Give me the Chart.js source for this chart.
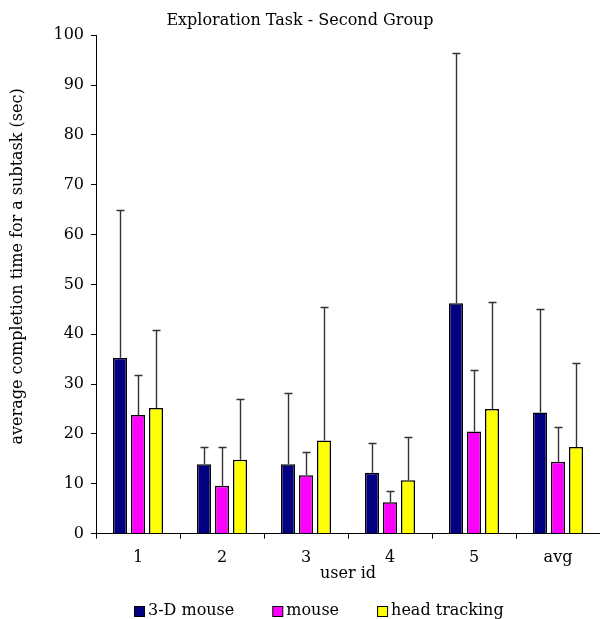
<!DOCTYPE html>
<html><head><meta charset="utf-8">
<script src="https://cdn.jsdelivr.net/npm/chart.js@4"></script>
<style>html,body{margin:0;padding:0;background:#fff}#wrap{width:600px;height:619px}</style>
</head><body><div id="wrap"><canvas id="c" width="600" height="619"></canvas></div>
<script>
const categories = ['1','2','3','4','5','avg'];
const mouse3d = [35.3, 13.9, 13.9, 12.2, 46.2, 24.3];
const mouse3dErr = [64.9, 17.4, 28.2, 18.1, 96.5, 45.1];
const mouse = [23.8, 9.6, 11.7, 6.3, 20.5, 14.4];
const mouseErr = [31.9, 17.3, 16.4, 8.5, 32.8, 21.3];
const headTracking = [25.2, 14.8, 18.7, 10.7, 25.0, 17.4];
const headTrackingErr = [40.9, 27.0, 45.5, 19.3, 46.5, 34.3];
const yTicks = [0,10,20,30,40,50,60,70,80,90,100];
const yTitle = 'average completion time for a subtask (sec)';

const FONT = "'DejaVu Serif', serif";
const FS = 16;
Chart.defaults.font.family = FONT;
Chart.defaults.color = '#000';

const errPlugin = {
  id: 'errbars',
  afterDatasetsDraw(chart) {
    const ctx = chart.ctx;
    const ys = chart.scales.y;
    ctx.save();
    ctx.strokeStyle = '#333';
    ctx.lineWidth = 1.4;
    chart.data.datasets.forEach((ds, di) => {
      const meta = chart.getDatasetMeta(di);
      meta.data.forEach((bar, i) => {
        const x = Math.round(bar.x) + 0.5;
        const yTop = Math.round(ys.getPixelForValue(ds.errTop[i])) + 0.5;
        ctx.beginPath();
        ctx.moveTo(x, bar.y);
        ctx.lineTo(x, yTop);
        ctx.moveTo(x - 4, yTop);
        ctx.lineTo(x + 4, yTop);
        ctx.stroke();
      });
    });
    ctx.restore();
  }
};

const textPlugin = {
  id: 'extraText',
  afterDraw(chart) {
    const ctx = chart.ctx;
    const ca = chart.chartArea;
    ctx.save();
    ctx.font = FS + 'px ' + FONT;
    ctx.fillStyle = '#000';
    ctx.save();
    ctx.translate(18, (ca.top + ca.bottom) / 2 - 18);
    ctx.rotate(-Math.PI / 2);
    ctx.textAlign = 'center';
    ctx.textBaseline = 'middle';
    ctx.fillText(yTitle, 0, 0);
    ctx.restore();
    ctx.textBaseline = 'middle';
    ctx.textAlign = 'left';
    const box = 11, gapText = 3, gapItem = 38;
    const items = chart.data.datasets.map(ds => ({label: ds.label, color: ds.backgroundColor, w: box + gapText + ctx.measureText(ds.label).width}));
    const total = items.reduce((s, it) => s + it.w, 0) + gapItem * (items.length - 1);
    let x = Math.round(chart.width / 2 + 19 - total / 2);
    const yc = chart.height - 8;
    items.forEach(it => {
      const by = Math.round(yc - box / 2) + 0.5;
      ctx.fillStyle = it.color;
      ctx.fillRect(x + 0.5, by, box - 1, box - 1);
      ctx.strokeStyle = '#000';
      ctx.lineWidth = 1;
      ctx.strokeRect(x + 0.5, by, box - 1, box - 1);
      ctx.fillStyle = '#000';
      ctx.fillText(it.label, x + box + gapText, yc);
      x += it.w + gapItem;
    });
    ctx.restore();
  }
};

new Chart(document.getElementById('c'), {
  type: 'bar',
  data: {
    labels: categories,
    datasets: [
      {label: '3-D mouse', data: mouse3d, errTop: mouse3dErr, backgroundColor: '#000080', borderColor: '#000', borderWidth: 1.5},
      {label: 'mouse', data: mouse, errTop: mouseErr, backgroundColor: '#ff00ff', borderColor: '#000', borderWidth: 1.5},
      {label: 'head tracking', data: headTracking, errTop: headTrackingErr, backgroundColor: '#ffff00', borderColor: '#000', borderWidth: 1.5}
    ]
  },
  options: {
    responsive: false,
    animation: false,
    layout: {padding: {left: 0, right: 0, top: 0, bottom: 36}},
    datasets: {bar: {categoryPercentage: 0.643, barPercentage: 0.78}},
    plugins: {
      title: {display: true, text: 'Exploration Task - Second Group', font: {size: FS, weight: 'normal', family: FONT}, color: '#000', padding: {top: 11, bottom: 5}},
      legend: {display: false},
      tooltip: {enabled: false}
    },
    scales: {
      x: {
        border: {color: '#000', width: 1},
        grid: {display: true, drawOnChartArea: false, drawTicks: true, tickLength: 5, color: '#000', offset: true},
        ticks: {font: {size: FS, family: FONT}, color: '#000', padding: 10},
        title: {display: true, text: 'user id', font: {size: FS, family: FONT}, color: '#000', padding: {top: -14, bottom: 0}}
      },
      y: {
        min: 0, max: 100,
        afterBuildTicks(axis) { axis.ticks = yTicks.map(v => ({value: v})); },
        afterFit(scale) { scale.width = 96; },
        border: {color: '#000', width: 1},
        grid: {display: true, drawOnChartArea: false, drawTicks: true, tickLength: 5, color: '#000'},
        ticks: {font: {size: FS, family: FONT}, color: '#000', padding: 7}
      }
    }
  },
  plugins: [errPlugin, textPlugin]
});
</script></body></html>
